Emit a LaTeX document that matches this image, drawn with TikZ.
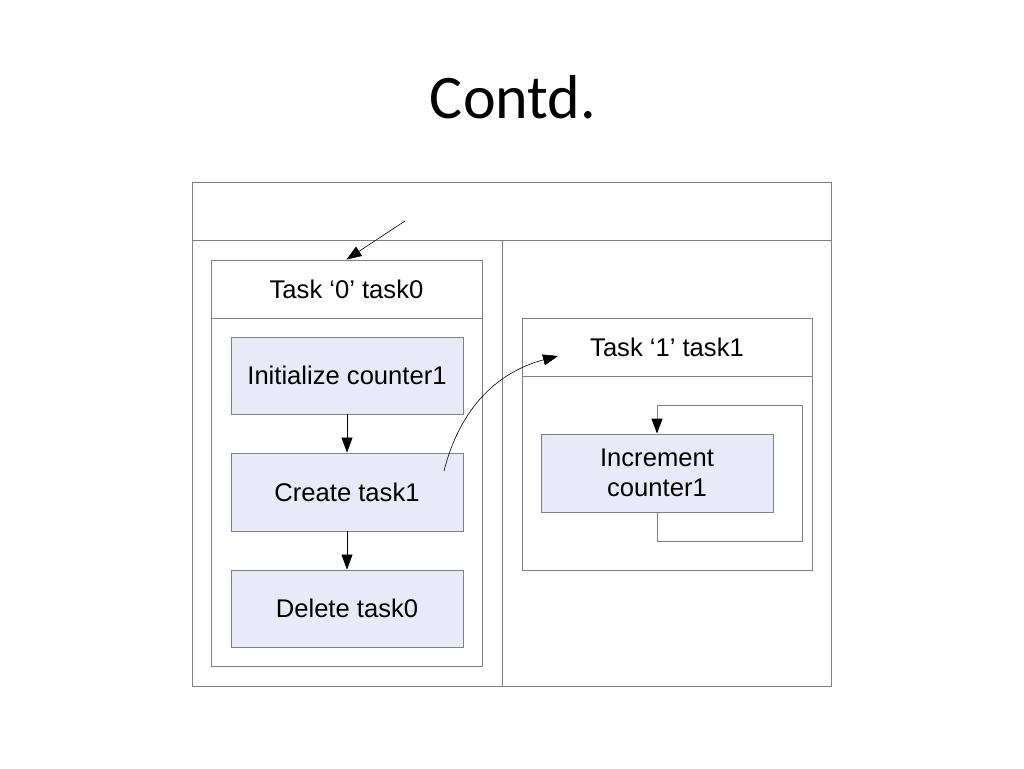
\documentclass[tikz,border=0pt]{standalone}
\usepackage{fontspec}
\setmainfont{Liberation Sans}
\newfontfamily\titlefont{Carlito}
\usetikzlibrary{arrows.meta}
\definecolor{boxline}{HTML}{808080}
\definecolor{boxfill}{HTML}{E8EBF7}
\tikzset{
  frameline/.style={draw=boxline, line width=0.9pt},
  plainbox/.style={frameline, rectangle, inner sep=0pt, fill=white},
  stepbox/.style={frameline, rectangle, inner sep=0pt, fill=boxfill, minimum width=232pt, align=center,
    font=\fontsize{25.6}{31}\selectfont},
  titlebox/.style={frameline, rectangle, inner sep=0pt, minimum height=58pt, font=\fontsize{25.6}{31}\selectfont},
  conn/.style={draw=black, line width=0.6pt, -{Triangle[length=15pt,width=11pt,color=black]}},
}
\begin{document}
\begin{tikzpicture}[x=1pt,y=-1pt]
\useasboundingbox (0,0) rectangle (1024,768);
\fill[white] (0,0) rectangle (1024,768);
% title
\node[font=\titlefont\fontsize{62}{70}\selectfont] (title) at (513,97) {Contd.};
% outer frame
\node[plainbox, minimum width=639pt, minimum height=504pt] (frame) at (511.5,434) {};
\coordinate (hl) at (192,240);
\coordinate (hr) at (831,240);
\draw[frameline] (hl) -- (hr);
\coordinate (dt) at (502,240);
\coordinate (db) at (502,686);
\draw[frameline] (dt) -- (db);
% task0
\node[plainbox, minimum width=271pt, minimum height=406pt] (task0) at (346.5,463) {};
\node[titlebox, minimum width=271pt] (t0title) at (346.5,289) {Task ‘0’ task0};
\node[stepbox, minimum height=77pt] (init) at (347,375.5) {Initialize counter1};
\node[stepbox, minimum height=78pt] (create) at (347,492) {Create task1};
\node[stepbox, minimum height=77pt] (delete) at (347,608.5) {Delete task0};
\draw[conn] (init) -- (create);
\draw[conn] (create) -- (delete);
\coordinate (topstart) at (405,221);
\draw[conn] (topstart) -- (t0title.north);
% task1
\node[plainbox, minimum width=290pt, minimum height=252pt] (task1) at (667,444) {};
\node[titlebox, minimum width=290pt] (t1title) at (667,347) {Task ‘1’ task1};
\node[stepbox, minimum height=78pt] (incr) at (657,473) {Increment\\[-1pt]counter1};
\coordinate (loopa) at (657,541);
\coordinate (loopb) at (802,405);
\draw[frameline] (incr.south) -- (loopa) -| (loopb);
\draw[conn, draw=boxline, line width=0.9pt] (loopb) -| (incr.north);
% curved arrow
\coordinate (cstart) at (444,471);
\coordinate (cend) at (558,356);
\draw[conn] (cstart) .. controls (462,400) and (505,370) .. (cend);
\end{tikzpicture}
\end{document}
